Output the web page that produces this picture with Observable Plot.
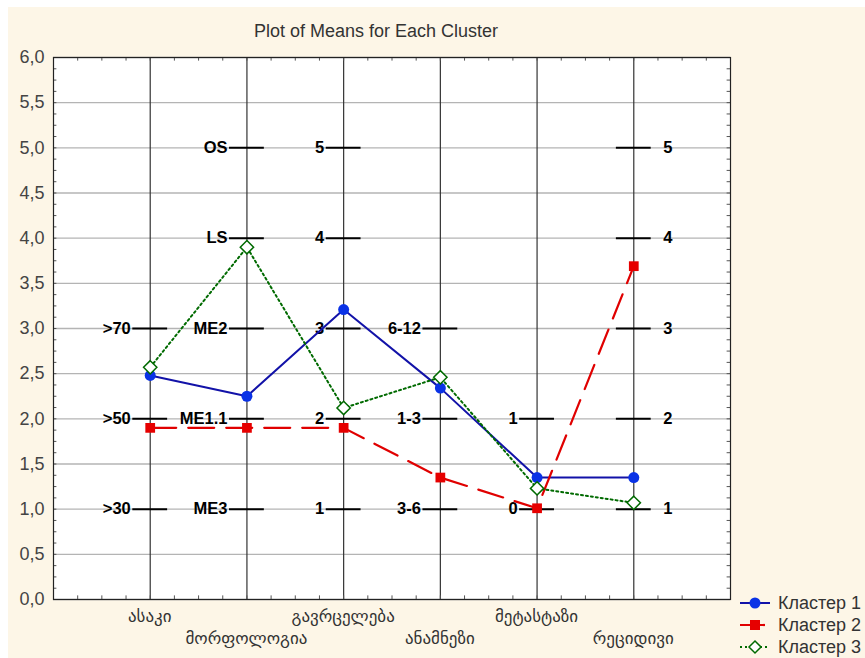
<!DOCTYPE html>
<html>
<head>
<meta charset="utf-8">
<script src="https://cdn.jsdelivr.net/npm/d3@7"></script>
<script src="https://cdn.jsdelivr.net/npm/@observablehq/plot@0.6"></script>
<style>
  html, body { margin: 0; padding: 0; background: #ffffff; }
  #page { position: relative; width: 865px; height: 658px; overflow: hidden; font-family: "Liberation Sans", Arial, sans-serif; }
  #cream { position: absolute; left: 8px; top: 7px; width: 857px; height: 651px; background: #fdf6e7; }
  #chart { position: absolute; left: 0; top: 0; }
  #title { position: absolute; top: 21px; left: 176px; width: 400px; text-align: center; font-size: 18px; color: #333; }
  #legend { position: absolute; left: 738px; top: 593px; font-size: 18px; color: #333; }
  .item { position: relative; height: 22px; white-space: nowrap; }
  .item svg { position: absolute; left: 0; top: 1px; }
  .item span { position: absolute; left: 40px; top: 0px; }
</style>
</head>
<body>
<div id="page">
  <div id="cream"></div>
  <div id="chart"></div>
  <div id="title">Plot of Means for Each Cluster</div>
  <div id="legend"></div>
</div>
<script>
// Categories (x positions 1..6)
const categories = ["ასაკი", "მორფოლოგია", "გავრცელება", "ანამნეზი", "მეტასტაზი", "რეციდივი"];
const seriesNames = ["Кластер 1", "Кластер 2", "Кластер 3"];
const cluster1 = [2.48, 2.25, 3.21, 2.34, 1.35, 1.35];
const cluster2 = [1.90, 1.90, 1.90, 1.35, 1.01, 3.69];
const cluster3 = [2.57, 3.90, 2.12, 2.46, 1.23, 1.07];

// Level annotations per category (value -> label)
const ageLevels = [">30", ">50", ">70"];
const morphLevels = ["ME3", "ME1.1", "ME2", "LS", "OS"];
const spreadLevels = ["1", "2", "3", "4", "5"];
const anamLevels = ["3-6", "1-3", "6-12"];
const metaLevels = ["0", "1"];
const relapseLevels = ["1", "2", "3", "4", "5"];

const yTicks = [0, 0.5, 1, 1.5, 2, 2.5, 3, 3.5, 4, 4.5, 5, 5.5, 6];

const colors = ["#1212a8", "#e00000", "#006a00"];

const lineData = [];
[cluster1, cluster2, cluster3].forEach((arr, s) => arr.forEach((v, i) => lineData.push({x: i + 1, y: v, s})));

const levelSets = [ageLevels, morphLevels, spreadLevels, anamLevels, metaLevels, relapseLevels];
const levels = [];
levelSets.forEach((set, c) => set.forEach((lab, k) => levels.push({x: c + 1, y: k + 1, label: lab, right: c === 5})));

const halfTick = 0.18;
const minorY = d3.range(0, 6.0001, 0.125);
const minorX = d3.range(0, 7.0001, 0.25);

const fmt = d => d.toFixed(1).replace(".", ",");

const chart = Plot.plot({
  width: 865,
  height: 658,
  marginLeft: 53,
  marginRight: 135,
  marginTop: 57,
  marginBottom: 59,
  style: {background: "transparent", fontFamily: "'Liberation Sans', Arial, sans-serif"},
  x: {domain: [0, 7], axis: null},
  y: {domain: [0, 6], axis: null},
  marks: [
    Plot.frame({fill: "white", stroke: "none"}),
    Plot.ruleY(yTicks, {stroke: "#b4b4b4", strokeWidth: 1.3}),
    Plot.ruleX(categories.map((c, i) => i + 1), {stroke: "#333", strokeWidth: 1.2}),
    // minor ticks
    Plot.ruleY(minorY, {x1: 0, x2: 0.035, stroke: "#555", strokeWidth: 1}),
    Plot.ruleY(minorY, {x1: 6.965, x2: 7, stroke: "#555", strokeWidth: 1}),
    Plot.ruleX(minorX, {y1: 5.96, y2: 6, stroke: "#555", strokeWidth: 1}),
    Plot.ruleX(minorX, {y1: 0, y2: 0.04, stroke: "#555", strokeWidth: 1}),
    Plot.frame({stroke: "#222", strokeWidth: 1.2}),
    // y axis labels
    Plot.text(yTicks, {x: 0, y: d => d, text: fmt, textAnchor: "end", dx: -9, fontSize: 18, fill: "#444"}),
    // level tick marks and labels
    Plot.ruleY(levels, {y: "y", x1: d => d.x - halfTick, x2: d => d.x + halfTick, stroke: "#000", strokeWidth: 2}),
    Plot.text(levels.filter(d => !d.right), {x: d => d.x - halfTick, y: "y", text: "label", textAnchor: "end", dx: -2, fontWeight: "bold", fontSize: 16.5, fill: "#000"}),
    Plot.text(levels.filter(d => d.right), {x: d => d.x + halfTick, y: "y", text: "label", textAnchor: "start", dx: 12, fontWeight: "bold", fontSize: 16.5, fill: "#000"}),
    // series lines
    Plot.line(lineData.filter(d => d.s === 0), {x: "x", y: "y", stroke: colors[0], strokeWidth: 2}),
    Plot.line(lineData.filter(d => d.s === 1), {x: "x", y: "y", stroke: colors[1], strokeWidth: 2.2, strokeDasharray: "26,12"}),
    Plot.line(lineData.filter(d => d.s === 2), {x: "x", y: "y", stroke: colors[2], strokeWidth: 2, strokeDasharray: "2,3"}),
    Plot.dot(lineData.filter(d => d.s === 0), {x: "x", y: "y", r: 5.5, fill: "#0a32e6", stroke: "none"}),
    Plot.dot(lineData.filter(d => d.s === 1), {x: "x", y: "y", symbol: "square", r: 5.5, fill: "#e60000", stroke: "none"}),
    Plot.dot(lineData.filter(d => d.s === 2), {x: "x", y: "y", symbol: "diamond2", r: 6, fill: "white", stroke: colors[2], strokeWidth: 1.5})
  ]
});
document.getElementById("chart").appendChild(chart);

// Staggered category labels placed through the chart's scales
const xs = chart.scale("x"), ys = chart.scale("y");
const svg = d3.select(chart);
const g = svg.append("g").attr("font-size", 17).attr("fill", "#333").attr("text-anchor", "middle")
  .attr("font-family", "'DejaVu Sans', 'Noto Sans', sans-serif");
categories.forEach((c, i) => {
  g.append("text").attr("x", xs.apply(i + 1)).attr("y", ys.apply(0) + (i % 2 === 0 ? 23 : 45)).text(c);
});

// Legend
const legend = document.getElementById("legend");
const symbols = [
  `<line x1="2" y1="9" x2="32" y2="9" stroke="${colors[0]}" stroke-width="2"/><circle cx="17" cy="9" r="5.5" fill="#0a32e6"/>`,
  `<line x1="2" y1="9" x2="32" y2="9" stroke="${colors[1]}" stroke-width="2.2" stroke-dasharray="10,5"/><rect x="12" y="4" width="10" height="10" fill="#e60000"/>`,
  `<line x1="2" y1="9" x2="32" y2="9" stroke="${colors[2]}" stroke-width="2" stroke-dasharray="2,3"/><path d="M17,3 L23,9 L17,15 L11,9 Z" fill="white" stroke="${colors[2]}" stroke-width="1.5"/>`
];
seriesNames.forEach((n, i) => {
  const div = document.createElement("div");
  div.className = "item";
  div.innerHTML = `<svg width="36" height="20">${symbols[i]}</svg><span>${n}</span>`;
  legend.appendChild(div);
});
</script>
</body>
</html>
